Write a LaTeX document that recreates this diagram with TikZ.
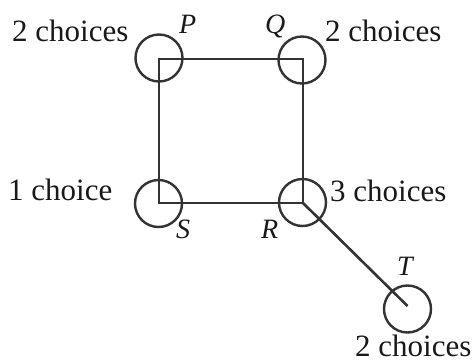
\documentclass[tikz,border=0pt]{standalone}
\usepackage{fontspec}
\setmainfont{Liberation Serif}
\begin{document}
\begin{tikzpicture}[x=1pt,y=-1pt,
  spot/.style={circle,draw=black!80,line width=2.4pt,minimum size=47pt,inner sep=0pt},
  edge/.style={draw=black!80,line width=2.6pt},
  big/.style={inner sep=0pt,font=\fontsize{31}{36}\selectfont,text=black!90},
  letter/.style={inner sep=0pt,font=\fontsize{28}{32}\selectfont\itshape,text=black!90}]
\useasboundingbox (0,0) rectangle (475,360);
\node[spot] (P) at (159,58) {};
\node[spot] (Q) at (302,60) {};
\node[spot] (S) at (158.5,203.5) {};
\node[spot] (R) at (302.5,202.5) {};
\node[spot] (T) at (407.5,309) {};
\coordinate (p) at (159,59);
\coordinate (q) at (303,59);
\coordinate (r) at (303,203);
\coordinate (s) at (159,203);
\coordinate (t) at (407.5,306);
\draw[edge,line join=miter] (s) -- (p) -- (q) -- (r) -- cycle;
\draw[edge] (r) -- (t);
\node[big,anchor=base west] (lp) at (12,41) {2 choices};
\node[big,anchor=base west] (lq) at (325,41) {2 choices};
\node[big,anchor=base west] (ls) at (8,200.5) {1 choice};
\node[big,anchor=base west] (lr) at (330,201) {3 choices};
\node[big,anchor=base west] (lt) at (355,356) {2 choices};
\node[letter,anchor=base west] (nP) at (179,33) {P};
\node[letter,anchor=base west] (nQ) at (265,33) {Q};
\node[letter,anchor=base west] (nS) at (176,238) {S};
\node[letter,anchor=base west] (nR) at (261,238) {R};
\node[letter,anchor=base west] (nT) at (397,275) {T};
\end{tikzpicture}
\end{document}
